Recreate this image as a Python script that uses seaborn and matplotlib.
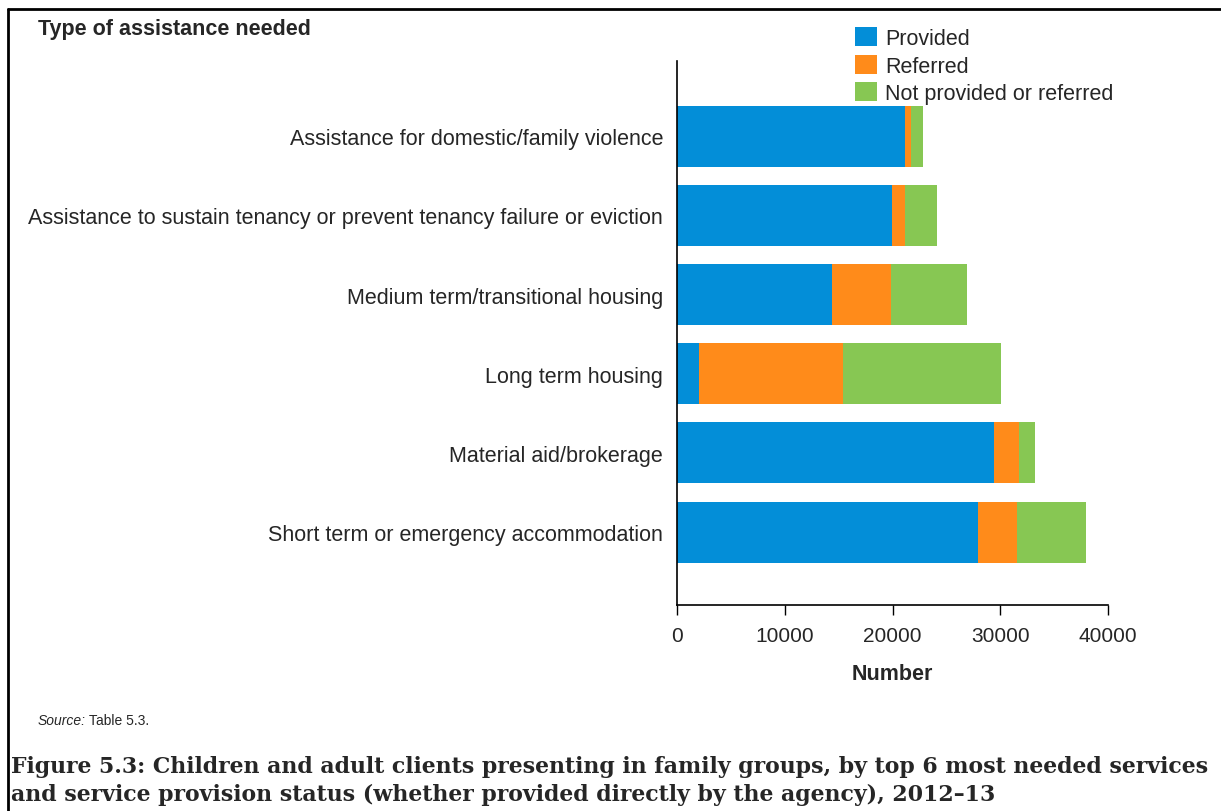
import matplotlib
matplotlib.use("Agg")
import matplotlib.pyplot as plt
from matplotlib.patches import Patch
from matplotlib.lines import Line2D
import seaborn as sns
import pandas as pd

# Service types (top 6 most needed), in display order
categories = [
    "Assistance for domestic/family violence",
    "Assistance to sustain tenancy or prevent tenancy failure or eviction",
    "Medium term/transitional housing",
    "Long term housing",
    "Material aid/brokerage",
    "Short term or emergency accommodation",
]
provided = [21140, 19960, 14420, 2060, 29440, 27930]
referred = [620, 1210, 5420, 13380, 2300, 3650]
not_provided = [1060, 2920, 7090, 14650, 1510, 6380]

series_names = ["Provided", "Referred", "Not provided or referred"]
colors = ["#038ED8", "#FF8B1A", "#87C753"]
x_ticks = [0, 10000, 20000, 30000, 40000]

df = pd.DataFrame({
    "service": categories,
    "provided": provided,
    "referred": referred,
    "not_provided": not_provided,
})
df["cum_referred"] = df["provided"] + df["referred"]
df["cum_total"] = df["cum_referred"] + df["not_provided"]

sns.set_theme(style="white")
plt.rcParams["font.family"] = ["Liberation Sans", "DejaVu Sans"]

fig = plt.figure(figsize=(12.21, 8.12), dpi=100)
ax = fig.add_axes([677 / 1221, 1 - 606 / 812, 431 / 1221, 544 / 812])

# Stacked bars: draw cumulative totals back to front
for col, color in zip(["cum_total", "cum_referred", "provided"], colors[::-1]):
    sns.barplot(data=df, x=col, y="service", order=categories, orient="h",
                color=color, width=0.77, saturation=1, ax=ax,
                edgecolor="none", linewidth=0)

ax.set_xlim(0, 40000)
ax.set_ylim(5.92, -0.95)
ax.set_xticks(x_ticks)
ax.set_xticklabels([str(t) for t in x_ticks], fontsize=15)
ax.set_yticks(range(len(categories)))
ax.set_yticklabels(categories, fontsize=15.5)
ax.tick_params(axis="x", which="major", direction="out", length=7, width=1,
               color="black", pad=8, bottom=True)
ax.tick_params(axis="y", length=0, pad=10)
ax.set_xlabel("Number", fontsize=15.5, fontweight="bold", labelpad=13)
ax.set_ylabel("")
for side in ["top", "right"]:
    ax.spines[side].set_visible(False)
for side in ["left", "bottom"]:
    ax.spines[side].set_color("black")
    ax.spines[side].set_linewidth(1.2)

# Legend
handles = [Patch(facecolor=c, edgecolor="none") for c in colors]
fig.legend(handles, series_names, loc="upper left",
           bbox_to_anchor=(855 / 1221, 1 - 28 / 812), frameon=False,
           fontsize=15.5, handlelength=1.0, handleheight=1.0,
           handletextpad=0.4, labelspacing=0.26, borderaxespad=0, borderpad=0)

# Titles and notes
fig.text(38 / 1221, 1 - 29 / 812, "Type of assistance needed", fontsize=15.5,
         fontweight="bold", va="center", ha="left")
fig.text(38 / 1221, 1 - 721 / 812, "Source:", fontsize=10, style="italic",
         va="center", ha="left")
fig.text(89 / 1221, 1 - 721 / 812, "Table 5.3.", fontsize=10,
         va="center", ha="left")
caption = ("Figure 5.3: Children and adult clients presenting in family groups, by top 6 most needed services\n"
           "and service provision status (whether provided directly by the agency), 2012\u201313")
fig.text(11 / 1221, 1 - 781 / 812, caption, fontsize=15.8, fontweight="bold",
         family=["DejaVu Serif"], va="center", ha="left",
         linespacing=1.3)

# Frame lines (top and left)
fig.add_artist(Line2D([8 / 1221, 8 / 1221], [0, 1 - 10 / 812],
                      transform=fig.transFigure, color="black", linewidth=2))
fig.add_artist(Line2D([8 / 1221, 1], [1 - 10 / 812, 1 - 10 / 812],
                      transform=fig.transFigure, color="black", linewidth=2))

fig.savefig("out.png", dpi=100)
